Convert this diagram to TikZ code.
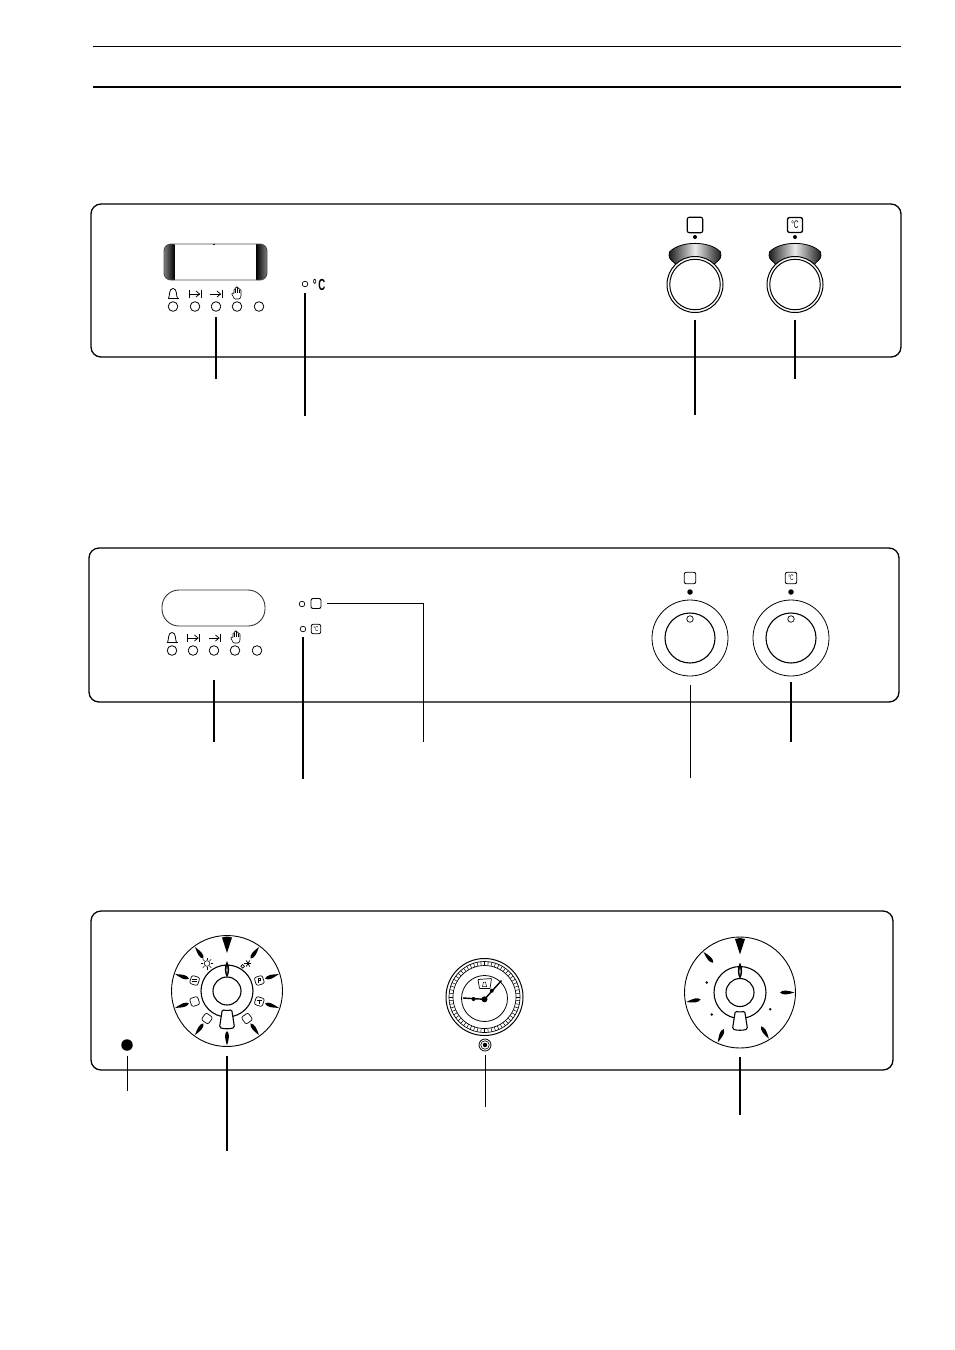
\documentclass[tikz,border=0pt]{standalone}
\usepackage{fontspec}
\usetikzlibrary{calc}
\setmainfont{Liberation Sans}
\tikzset{
	panel/.style={draw=black, line width=1.3pt, rounded corners=10pt},
	leader/.style={draw=black, line width=1.5pt},
	thinleader/.style={draw=black, line width=.8pt},
	btn/.style={circle, draw=black, line width=.8pt, inner sep=0pt, minimum size=9.6pt},
	led/.style={circle, draw=black, line width=.7pt, inner sep=0pt, minimum size=5.6pt},
	spot/.style={circle, fill=black, inner sep=0pt, minimum size=#1},
	ring/.style={circle, draw=black, line width=#1, fill=white, inner sep=0pt},
	iconbox/.style={draw=black, line width=#1, rounded corners=2pt, inner sep=0pt},
	degc/.style={inner sep=0pt, font=\fontsize{#1}{#1}\selectfont},
	modebox/.style={draw=black, line width=.7pt, rounded corners=2pt, fill=white, inner sep=0pt, minimum size=8.4pt},
	bellicon/.pic={
		\draw[line width=.8pt] (-5.5,-4.3) -- (5.5,-4.3);
		\draw[line width=.8pt] (-4.5,-4.3) .. controls (-3,-2.5) and (-4.5,5.5) .. (0,5.5) .. controls (4.5,5.5) and (3,-2.5) .. (4.5,-4.3);
	},
	startstopicon/.pic={
		\draw[line width=.8pt] (-6,-3.8) -- (-6,3.8);
		\draw[line width=.8pt] (6,-3.8) -- (6,3.8);
		\draw[line width=.8pt] (-6,0) -- (4.5,0);
		\draw[line width=.8pt] (1,3) -- (4.5,0) -- (1,-3);
	},
	stopicon/.pic={
		\draw[line width=.8pt] (6,-3.8) -- (6,3.8);
		\draw[line width=.8pt] (-6,0) -- (4.5,0);
		\draw[line width=.8pt] (1,3) -- (4.5,0) -- (1,-3);
	},
	handicon/.pic={
		\draw[line width=.6pt, rounded corners=.8pt] (-2.5,-6) -- (-5.5,-.5) -- (-4,.3) -- (-3,-1) -- (-3,4) -- (-1.4,4) -- (-1.4,6) -- (.4,6) -- (.4,5) -- (2.2,5) -- (2.2,3.5) -- (4,3.5) -- (4,-3.5) -- (2.5,-6) -- cycle;
		\draw[line width=.5pt] (-1.4,4) -- (-1.4,0);
		\draw[line width=.5pt] (.4,5) -- (.4,0);
		\draw[line width=.5pt] (2.2,3.5) -- (2.2,0);
	},
	spindle/.pic={
		\fill (40,0) .. controls (43,3) and (47,2.2) .. (54.5,0) .. controls (47,-2.2) and (43,-3) .. (40,0) -- cycle;
	},
	lever/.pic={
		\draw[fill=white, line width=1.1pt, rounded corners=1.5pt] (-4.7,-18.5) .. controls (-2,-19.5) and (2,-19.5) .. (4.7,-18.5) -- (7.5,-36.5) .. controls (3,-38) and (-3,-38) .. (-7.5,-36.5) -- cycle;
	},
	gaugemark/.pic={
		\fill (0,30) .. controls (3.2,24) and (2.6,18) .. (0,13.5) .. controls (-2.6,18) and (-3.2,24) .. (0,30) -- cycle;
		\fill[white] (0,25) -- (.6,21) -- (0,17) -- (-.6,21) -- cycle;
	}
}
\begin{document}
\begin{tikzpicture}[x=1pt, y=1pt]
	\useasboundingbox (0,0) rectangle (954,-1350);

	\coordinate (headA) at (93,-46);
	\coordinate (headB) at (901,-46);
	\coordinate (headC) at (93,-87);
	\coordinate (headD) at (901,-87);
	\draw[line width=.8pt] (headA) -- (headB);
	\draw[line width=1.8pt] (headC) -- (headD);

	% first panel
	\draw[panel] (91,-204) rectangle (901,-357);
	\begin{scope}
		\clip[rounded corners=7pt] (164,-244) rectangle (267,-280);
		\shade[left color=gray, right color=black] (164,-244) rectangle (174.5,-280);
		\shade[left color=black, right color=gray] (256,-244) rectangle (267,-280);
	\end{scope}
	\draw[line width=.9pt, draw=black!70, rounded corners=7pt] (164,-244) rectangle (267,-280);
	\node[spot=1.6pt] (oneMark) at (214,-244.5) {};
	\foreach \px/\pname in {173/A, 195/B, 216/C, 237/D, 259/E}{
		\node[btn] (oneBtn\pname) at (\px,-306.5) {};
	}
	\pic at (173,-294) {bellicon};
	\pic at (195,-294) {startstopicon};
	\pic at (216,-294) {stopicon};
	\pic at (237,-293) {handicon};
	\node[led] (oneLed) at (305,-284) {};
	\node[degc=16, xscale=.6, font=\bfseries\fontsize{16}{16}\selectfont] (oneUnit) at (319,-285) {°\,C};
	\coordinate (oneEndA) at (216,-379);
	\coordinate (oneEndB) at (305,-416);
	\coordinate (oneEndC) at (695,-415);
	\coordinate (oneEndD) at (795,-379);
	\draw[leader, shorten <=5.5pt] (oneBtnC) -- (oneEndA);
	\draw[leader, shorten <=5.5pt] (oneLed) -- (oneEndB);
	\foreach \px/\pname in {695/A, 795/B}{
		\shade[left color=black!90, right color=black!90, middle color=gray!15] (\px-25.5,-252) .. controls (\px-15,-240.5) and (\px+15,-240.5) .. (\px+25.5,-252) .. controls (\px+26.5,-258) .. (\px+17,-266) -- (\px-17,-266) .. controls (\px-26.5,-258) .. cycle;
		\draw[line width=.8pt] (\px-25.5,-252) .. controls (\px-15,-240.5) and (\px+15,-240.5) .. (\px+25.5,-252) .. controls (\px+26.5,-258) .. (\px+17,-266) -- (\px-17,-266) .. controls (\px-26.5,-258) .. cycle;
		\node[ring=1pt, minimum size=56pt] (oneKnob\pname) at (\px,-284.5) {};
		\node[ring=1pt, minimum size=50.5pt] at (\px,-284.5) {};
		\node[spot=4pt] (oneDot\pname) at (\px,-237) {};
	}
	\node[iconbox=1.1pt, minimum size=15.5pt] (oneBoxA) at (695,-225) {};
	\node[iconbox=1.3pt, minimum size=15pt] (oneBoxB) at (795,-225) {};
	\node[degc=11, xscale=.6] at (795,-225) {°C};
	\draw[leader, shorten <=7pt] (oneKnobA) -- (oneEndC);
	\draw[leader, shorten <=7pt] (oneKnobB) -- (oneEndD);

	% second panel
	\draw[panel] (89,-548) rectangle (899,-702);
	\draw[line width=.9pt, draw=black!80, rounded corners=17pt] (162,-590) rectangle (265,-626);
	\foreach \px/\pname in {172/A, 193/B, 214/C, 235/D, 257/E}{
		\node[btn] (twoBtn\pname) at (\px,-650.5) {};
	}
	\pic at (172,-638) {bellicon};
	\pic at (193.5,-638) {startstopicon};
	\pic at (214.5,-638) {stopicon};
	\pic at (236,-637) {handicon};
	\node[led] (twoLedA) at (302,-604) {};
	\node[iconbox=.9pt, minimum size=10pt] (twoBoxA) at (316,-603.5) {};
	\node[led] (twoLedB) at (303,-629) {};
	\node[iconbox=.8pt, minimum size=9.5pt] (twoBoxB) at (316,-629) {};
	\node[degc=7, xscale=.6] at (316,-629) {°C};
	\coordinate (twoEndA) at (214,-742);
	\coordinate (twoEndB) at (303,-779);
	\coordinate (twoElbow) at (423,-603.5);
	\coordinate (twoEndC) at (423,-742);
	\coordinate (twoEndD) at (690,-778);
	\coordinate (twoEndE) at (791,-742);
	\draw[leader, shorten <=24.5pt] (twoBtnC) -- (twoEndA);
	\draw[leader, shorten <=5pt] (twoLedB) -- (twoEndB);
	\draw[thinleader, shorten <=6pt] (twoBoxA) -- (twoElbow) -- (twoEndC);
	\foreach \px/\pname in {690/A, 791/B}{
		\node[ring=.8pt, minimum size=76pt] (twoKnob\pname) at (\px,-638) {};
		\node[ring=1.1pt, minimum size=50pt] at (\px,-638) {};
		\node[led, minimum size=6.5pt] at (\px,-619) {};
		\node[spot=5.5pt] (twoDot\pname) at (\px,-592) {};
		\node[iconbox=.9pt, minimum size=11.5pt] (twoSign\pname) at (\px,-578) {};
	}
	\node[degc=8, xscale=.6] at (791,-578) {°C};
	\draw[thinleader, shorten <=9pt] (twoKnobA) -- (twoEndD);
	\draw[leader, shorten <=6pt] (twoKnobB) -- (twoEndE);

	% third panel
	\draw[panel] (91,-911) rectangle (893,-1070);
	\node[spot=11.5pt] (threeLamp) at (127,-1045) {};
	\coordinate (threeEndA) at (127,-1091);
	\draw[thinleader, shorten <=5pt] (threeLamp) -- (threeEndA);

	% selector dial
	\node[ring=.9pt, minimum size=111pt] (modeDial) at (227,-991) {};
	\begin{scope}[shift={(227,-991)}]
		\foreach \a in {54,18,-18,-54,-90,234,198,162,126}{
			\pic[rotate=\a] {spindle};
		}
		\fill (0,54.5) -- (-5,53.5) -- (0,38) -- (5,53.5) -- cycle;
		\foreach \a in {18,-18,-54,234,198,162}{
			\node[modebox, rotate=\a-90] at (\a:34) {};
		}
		\draw[line width=.5pt] (18:34) ++(-1,-2) -- ++(0,4) -- ++(2.2,0) -- ++(0,-2) -- ++(-2.2,0);
		\draw[line width=.5pt] (-18:34) ++(-2.2,1) -- ++(4.4,0);
		\draw[line width=.5pt] (-18:34) ++(0,1) -- ++(0,-3);
		\draw[line width=.5pt] (162:34) ++(-2.2,1) -- ++(4.4,0);
		\draw[line width=.5pt] (162:34) ++(-2.2,-1) -- ++(4.4,0);
		\draw[line width=.6pt] (126:34) circle (2.8);
		\foreach \s in {0,45,...,315}{
			\draw[line width=.6pt] ($(126:34)+(\s:3.6)$) -- ($(126:34)+(\s:6)$);
		}
		\draw[line width=.7pt] (54:34) ++(-4.3,-2.8) circle (1.8);
		\foreach \s in {0,60,120}{
			\draw[line width=.8pt] ($(54:34)+(\s:3.5)+(1,0)$) -- ($(54:34)+(\s+180:3.5)+(1,0)$);
		}
		\node[ring=1.1pt, minimum size=52pt] (modeRing) at (0,0) {};
		\node[ring=1.1pt, minimum size=28pt] (modeHub) at (0,0) {};
		\pic {gaugemark};
		\pic {lever};
	\end{scope}
	\coordinate (threeEndB) at (227,-1151);
	\draw[leader, shorten <=9pt] (modeDial) -- (threeEndB);

	% clock
	\node[ring=1pt, minimum size=77pt] (clockRim) at (484.5,-997) {};
	\begin{scope}[shift={(484.5,-997)}]
		\foreach \a in {0,6,...,354}{
			\draw[line width=.5pt] (\a:31.5) -- (\a:35.5);
		}
		\node[circle, draw=black, line width=.7pt, inner sep=0pt, minimum size=71pt] at (0,0) {};
		\node[circle, draw=black, line width=.7pt, inner sep=0pt, minimum size=63pt] at (0,0) {};
		\node[ring=.8pt, minimum size=46pt] (clockFace) at (0,-1.5) {};
		\draw[line width=.7pt, rounded corners=.5pt] (-6.5,17.5) -- (7,18.5) -- (5.5,8.5) -- (-5,8.5) -- cycle;
		\draw[line width=.5pt] (-2,10.5) -- (2,10.5) -- (1,15) -- (-1,15) -- cycle;
		\node[spot=6pt] (clockPin) at (0,-2.3) {};
		\draw[line width=1.4pt] (clockPin.center) -- (-21.5,-1);
		\node[spot=4pt] at (-11,-2) {};
		\draw[line width=1.4pt] (clockPin.center) -- (17,16.5);
		\node[spot=4pt] at (7.3,6.3) {};
	\end{scope}
	\node[ring=.8pt, minimum size=12pt] (clockKnob) at (485,-1045) {};
	\node[ring=.6pt, minimum size=8.5pt] at (485,-1045) {};
	\node[spot=4.5pt] at (485,-1045) {};
	\coordinate (threeEndC) at (485,-1107);
	\draw[thinleader, shorten <=4pt] (clockKnob) -- (threeEndC);

	% temperature dial
	\node[ring=.9pt, minimum size=111pt] (tempDial) at (740,-992.5) {};
	\begin{scope}[shift={(740,-992.5)}]
		\foreach \a in {0,-58,246,190,132}{
			\pic[rotate=\a] {spindle};
		}
		\fill (0,54.5) -- (-5,53.5) -- (0,38) -- (5,53.5) -- cycle;
		\node[spot=2.8pt] at (-33.3,10) {};
		\node[spot=2.8pt] at (-28.3,-22) {};
		\node[spot=2.8pt] at (30.3,-16.7) {};
		\node[ring=1.1pt, minimum size=52pt] (tempRing) at (0,0) {};
		\node[ring=1.1pt, minimum size=28pt] (tempHub) at (0,0) {};
		\pic {gaugemark};
		\pic {lever};
	\end{scope}
	\coordinate (threeEndD) at (740,-1115);
	\draw[leader, shorten <=9pt] (tempDial) -- (threeEndD);
\end{tikzpicture}
\end{document}
